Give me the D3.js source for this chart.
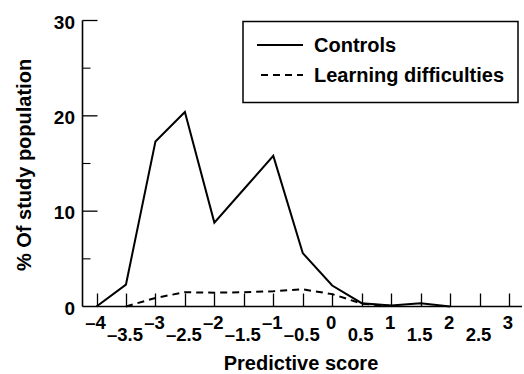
<!DOCTYPE html>
<html>
<head>
<meta charset="utf-8">
<script src="https://cdn.jsdelivr.net/npm/d3@7"></script>
<style>
  html, body { margin: 0; padding: 0; background: #fff; }
  svg { display: block; font-family: "Liberation Sans", Arial, Helvetica, sans-serif; }
</style>
</head>
<body>
<svg id="chart" width="524" height="374"></svg>
<script>
// Predictive score distribution: controls vs learning difficulties

const scores = [-4, -3.5, -3, -2.5, -2, -1.5, -1, -0.5, 0, 0.5, 1, 1.5, 2];
const controls = [0, 2.3, 17.3, 20.4, 8.8, 12.3, 15.8, 5.6, 2.2, 0.35, 0.1, 0.35, 0];

const ldScores = [-3.5, -3, -2.5, -2, -1.5, -1, -0.5, 0, 0.5, 1];
const learningDifficulties = [0, 0.9, 1.5, 1.45, 1.5, 1.6, 1.8, 1.3, 0.3, 0.05];

const xTicks = [-4, -3.5, -3, -2.5, -2, -1.5, -1, -0.5, 0, 0.5, 1, 1.5, 2, 2.5, 3];
const yMajor = [0, 10, 20, 30];
const yMinor = [5, 15, 25];

const legendItems = [
    { label: 'Controls', dash: null },
    { label: 'Learning difficulties', dash: '7,5' }
];

const svg = d3.select('#chart');
const width = 524;

const axisX0 = 82.5;
const x = d3.scaleLinear().domain([-4, 3]).range([96.5, 509]);
const y = d3.scaleLinear().domain([0, 30]).range([306.5, 20.5]);

const fmt = v => (v < 0 ? '\u2013' : '') + Math.abs(v);

// x axis: baseline + inward ticks
svg.append('line')
    .attr('x1', axisX0).attr('x2', width - 2)
    .attr('y1', y(0)).attr('y2', y(0))
    .style('stroke', '#000').style('stroke-width', 1.6);

svg.append('g')
    .selectAll('line')
    .data(xTicks)
    .enter()
    .append('line')
    .attr('x1', d => Math.round(x(d)) + 0.5).attr('x2', d => Math.round(x(d)) + 0.5)
    .attr('y1', y(0)).attr('y2', y(0) - 13)
    .style('stroke', '#000').style('stroke-width', 1.3);

// staggered tick labels: integers high, halves low
svg.append('g')
    .selectAll('text')
    .data(xTicks)
    .enter()
    .append('text')
    .attr('x', d => x(d) - 1)
    .attr('y', d => Number.isInteger(d) ? 329 : 341)
    .attr('text-anchor', 'middle')
    .style('font-size', '18.5px')
    .style('font-weight', 'bold')
    .text(fmt);

// y axis
svg.append('line')
    .attr('x1', axisX0).attr('x2', axisX0)
    .attr('y1', y(30)).attr('y2', y(0))
    .style('stroke', '#000').style('stroke-width', 1.6);

svg.append('g')
    .selectAll('line')
    .data(yMajor.filter(d => d > 0))
    .enter()
    .append('line')
    .attr('x1', axisX0).attr('x2', axisX0 + 15)
    .attr('y1', d => y(d)).attr('y2', d => y(d))
    .style('stroke', '#000').style('stroke-width', 1.3);

svg.append('g')
    .selectAll('line')
    .data(yMinor)
    .enter()
    .append('line')
    .attr('x1', axisX0).attr('x2', axisX0 + 8)
    .attr('y1', d => y(d)).attr('y2', d => y(d))
    .style('stroke', '#000').style('stroke-width', 1.1);

svg.append('g')
    .selectAll('text')
    .data(yMajor)
    .enter()
    .append('text')
    .attr('x', 75)
    .attr('y', d => y(d) + 8)
    .attr('text-anchor', 'end')
    .style('font-size', '19px')
    .style('font-weight', 'bold')
    .text(d => d);

// axis titles
svg.append('text')
    .attr('transform', 'translate(31, 165) rotate(-90)')
    .attr('text-anchor', 'middle')
    .style('font-size', '20px')
    .style('font-weight', 'bold')
    .text('% Of study population');

svg.append('text')
    .attr('x', 301)
    .attr('y', 370)
    .attr('text-anchor', 'middle')
    .style('font-size', '20px')
    .style('font-weight', 'bold')
    .text('Predictive score');

// series
const line = d3.line()
    .x(d => x(d[0]))
    .y(d => y(d[1]));

svg.append('path')
    .datum(d3.zip(scores, controls))
    .attr('d', line)
    .style('fill', 'none')
    .style('stroke', '#000')
    .style('stroke-width', 2)
    .style('stroke-linejoin', 'miter');

svg.append('path')
    .datum(d3.zip(ldScores, learningDifficulties))
    .attr('d', line)
    .style('fill', 'none')
    .style('stroke', '#000')
    .style('stroke-width', 2)
    .style('stroke-dasharray', '7,5');

// legend
const legend = svg.append('g');

legend.append('rect')
    .attr('x', 243).attr('y', 21.5)
    .attr('width', 275).attr('height', 81)
    .style('fill', '#fff')
    .style('stroke', '#000')
    .style('stroke-width', 1.5);

const rows = legend.selectAll('.legend-item')
    .data(legendItems)
    .enter()
    .append('g')
    .attr('class', 'legend-item')
    .attr('transform', (d, i) => `translate(0, ${45 + i * 30})`);

rows.append('line')
    .attr('x1', (d, i) => i === 0 ? 257 : 261)
    .attr('x2', 303)
    .attr('y1', 0).attr('y2', 0)
    .style('stroke', '#000')
    .style('stroke-width', 2)
    .style('stroke-dasharray', d => d.dash);

rows.append('text')
    .attr('x', 314)
    .attr('y', 6.5)
    .style('font-size', '20px')
    .style('font-weight', 'bold')
    .text(d => d.label);
</script>
</body>
</html>
